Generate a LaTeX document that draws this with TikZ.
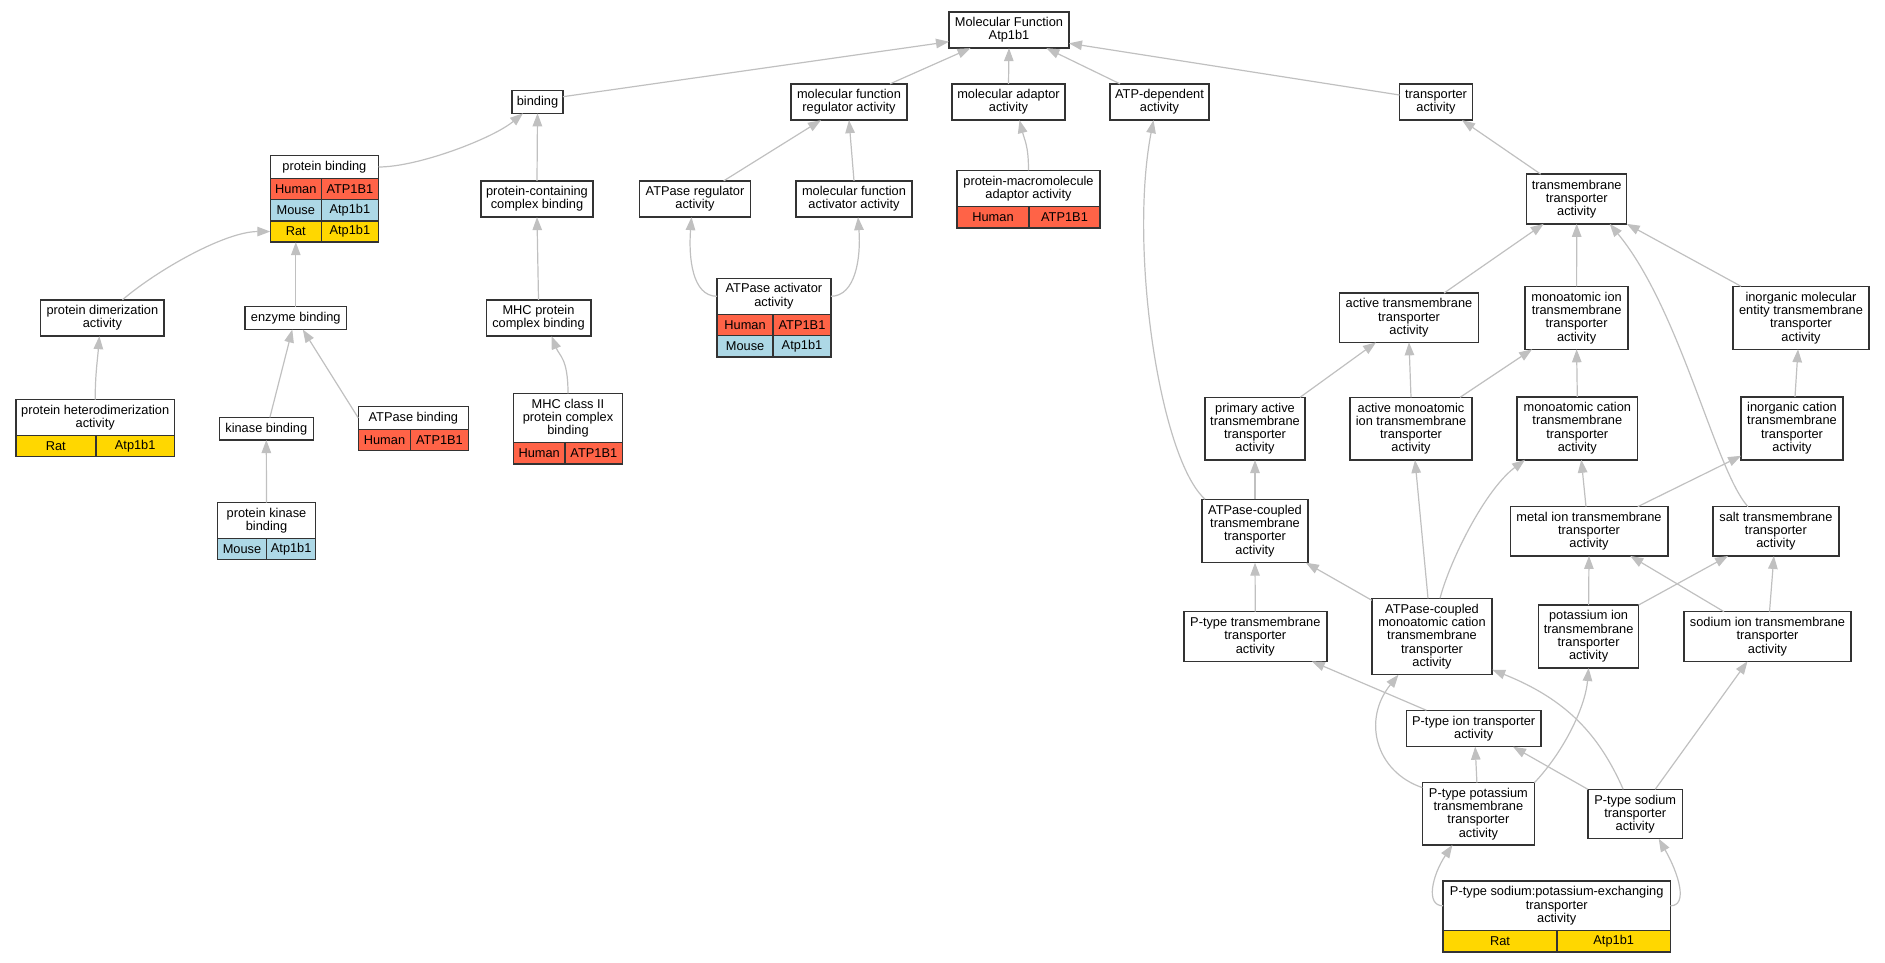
\documentclass[tikz,border=0pt]{standalone}
\usepackage{fontspec}
\setmainfont{Liberation Sans}
\usepackage{xcolor}
\usepackage{tikz}
\usetikzlibrary{arrows.meta}

\definecolor{human}{HTML}{FF6347}
\definecolor{mouse}{HTML}{ADD8E6}
\definecolor{rat}{HTML}{FFD700}
\definecolor{edgegray}{HTML}{C0C0C0}

\tikzset{
  term/.style={draw=black!80, line width=1.5pt, fill=white, align=center,
    inner xsep=2pt, inner ysep=0pt, outer sep=0pt,
    font=\fontsize{12.8}{13.3}\selectfont},
  cell/.style={term, minimum height=21.3, anchor=north west},
  isa/.style={draw=edgegray, line width=1.2pt, -{Triangle[length=13pt,width=9.5pt]}}
}

\begin{document}
\begin{tikzpicture}[x=1pt,y=-1pt]
\useasboundingbox (0,0) rectangle (1885,963);

% Root term
\node[term, minimum width=120, minimum height=36.3] (mf) at (1009,30) {Molecular Function\\Atp1b1};

% First level
\node[term, minimum width=51, minimum height=22.6] (binding) at (537.5,102) {binding};
\node[term, minimum width=116, minimum height=36.3] (mfreg) at (849,102) {molecular function\\regulator activity};
\node[term, minimum width=113, minimum height=36.3] (madapt) at (1008.5,102) {molecular adaptor\\activity};
\node[term, minimum width=99, minimum height=36.3] (atpdep) at (1159.5,102) {ATP-dependent\\activity};
\node[term, minimum width=73, minimum height=36.3] (transp) at (1436,102) {transporter\\activity};

% Binding branch
\node[term, minimum width=108.2, minimum height=22.6] (pbind) at (324.4,167) {protein binding};
\node[cell, fill=human, minimum width=51] (pbind-h1) at (pbind.south west) {Human};
\node[cell, fill=human, minimum width=57.2] (pbind-h2) at (pbind-h1.north east) {ATP1B1};
\node[cell, fill=mouse, minimum width=51] (pbind-m1) at (pbind-h1.south west) {Mouse};
\node[cell, fill=mouse, minimum width=57.2] (pbind-m2) at (pbind-m1.north east) {Atp1b1};
\node[cell, fill=rat, minimum width=51] (pbind-r1) at (pbind-m1.south west) {Rat};
\node[cell, fill=rat, minimum width=57.2] (pbind-r2) at (pbind-r1.north east) {Atp1b1};

\node[term, minimum width=112, minimum height=36.3] (pcc) at (537,199) {protein-containing\\complex binding};
\node[term, minimum width=123.6, minimum height=36.3] (pdimer) at (102.4,318) {protein dimerization\\activity};
\node[term, minimum width=101.6, minimum height=23] (enzb) at (295.8,318) {enzyme binding};
\node[term, minimum width=104.5, minimum height=36.3] (mhcb) at (538.5,318) {MHC protein\\complex binding};

\node[term, minimum width=158.7, minimum height=35.6] (phetero) at (95.2,417.5) {protein heterodimerization\\activity};
\node[cell, fill=rat, minimum width=80] (phetero-r1) at (phetero.south west) {Rat};
\node[cell, fill=rat, minimum width=78.7] (phetero-r2) at (phetero-r1.north east) {Atp1b1};

\node[term, minimum width=94, minimum height=22.7] (kinb) at (266.3,428.7) {kinase binding};

\node[term, minimum width=110, minimum height=22.6] (atpb) at (413.3,418) {ATPase binding};
\node[cell, fill=human, minimum width=52.4] (atpb-h1) at (atpb.south west) {Human};
\node[cell, fill=human, minimum width=57.6] (atpb-h2) at (atpb-h1.north east) {ATP1B1};

\node[term, minimum width=109.4, minimum height=49.4] (mhc2) at (568,418) {MHC class II\\protein complex\\binding};
\node[cell, fill=human, minimum width=51.7] (mhc2-h1) at (mhc2.south west) {Human};
\node[cell, fill=human, minimum width=57.7] (mhc2-h2) at (mhc2-h1.north east) {ATP1B1};

\node[term, minimum width=98.4, minimum height=35.6] (pkinb) at (266.5,520.5) {protein kinase\\binding};
\node[cell, fill=mouse, minimum width=49.4] (pkinb-m1) at (pkinb.south west) {Mouse};
\node[cell, fill=mouse, minimum width=49] (pkinb-m2) at (pkinb-m1.north east) {Atp1b1};

% Regulator and adaptor branch
\node[term, minimum width=111, minimum height=36.3] (atpreg) at (695,199) {ATPase regulator\\activity};
\node[term, minimum width=116, minimum height=36.3] (mfact) at (854,199) {molecular function\\activator activity};

\node[term, minimum width=113.8, minimum height=36] (atpact) at (773.9,296.3) {ATPase activator\\activity};
\node[cell, fill=human, minimum width=56.2] (atpact-h1) at (atpact.south west) {Human};
\node[cell, fill=human, minimum width=57.6] (atpact-h2) at (atpact-h1.north east) {ATP1B1};
\node[cell, fill=mouse, minimum width=56.2] (atpact-m1) at (atpact-h1.south west) {Mouse};
\node[cell, fill=mouse, minimum width=57.6] (atpact-m2) at (atpact-m1.north east) {Atp1b1};

\node[term, minimum width=143, minimum height=36.3] (pmadapt) at (1028.5,188.5) {protein-macromolecule\\adaptor activity};
\node[cell, fill=human, minimum width=72] (pmadapt-h1) at (pmadapt.south west) {Human};
\node[cell, fill=human, minimum width=71] (pmadapt-h2) at (pmadapt-h1.north east) {ATP1B1};

% Transporter branch
\node[term, minimum width=100, minimum height=49.7] (tmt) at (1576.7,199) {transmembrane\\transporter\\activity};
\node[term, minimum width=139, minimum height=49.3] (acttm) at (1409,317.7) {active transmembrane\\transporter\\activity};
\node[term, minimum width=103, minimum height=63] (mitm) at (1576.6,317.8) {monoatomic ion\\transmembrane\\transporter\\activity};
\node[term, minimum width=136, minimum height=63] (imetm) at (1801,317.8) {inorganic molecular\\entity transmembrane\\transporter\\activity};

\node[term, minimum width=100, minimum height=62.7] (primact) at (1255,428.7) {primary active\\transmembrane\\transporter\\activity};
\node[term, minimum width=121.7, minimum height=62.7] (actmi) at (1411,428.7) {active monoatomic\\ion transmembrane\\transporter\\activity};
\node[term, minimum width=120.6, minimum height=63] (mctm) at (1577.3,428.3) {monoatomic cation\\transmembrane\\transporter\\activity};
\node[term, minimum width=101.8, minimum height=63] (ictm) at (1792,428.3) {inorganic cation\\transmembrane\\transporter\\activity};

\node[term, minimum width=105.7, minimum height=63.4] (atpctm) at (1255,531) {ATPase-coupled\\transmembrane\\transporter\\activity};
\node[term, minimum width=157.5, minimum height=49.3] (metal) at (1589,531.3) {metal ion transmembrane\\transporter\\activity};
\node[term, minimum width=125.7, minimum height=49.3] (salt) at (1775.9,531.3) {salt transmembrane\\transporter\\activity};

\node[term, minimum width=143, minimum height=49.6] (ptypetm) at (1255.3,636.5) {P-type transmembrane\\transporter\\activity};
\node[term, minimum width=120.4, minimum height=76.4] (atpcmc) at (1432,636.5) {ATPase-coupled\\monoatomic cation\\transmembrane\\transporter\\activity};
\node[term, minimum width=100, minimum height=63] (kion) at (1588.6,636.5) {potassium ion\\transmembrane\\transporter\\activity};
\node[term, minimum width=167, minimum height=49.6] (naion) at (1767.5,636.5) {sodium ion transmembrane\\transporter\\activity};

\node[term, minimum width=134.6, minimum height=36.4] (ption) at (1473.7,728.5) {P-type ion transporter\\activity};
\node[term, minimum width=112, minimum height=62.3] (ptypek) at (1478.4,813.8) {P-type potassium\\transmembrane\\transporter\\activity};
\node[term, minimum width=94.7, minimum height=49.4] (ptypena) at (1635.2,814) {P-type sodium\\transporter\\activity};

\node[term, minimum width=227.4, minimum height=49.7] (ptypenak) at (1556.7,905.8) {P-type sodium:potassium-exchanging\\transporter\\activity};
\node[cell, fill=rat, minimum width=114] (ptypenak-r1) at (ptypenak.south west) {Rat};
\node[cell, fill=rat, minimum width=113.4] (ptypenak-r2) at (ptypenak-r1.north east) {Atp1b1};

% Straight is_a links
\foreach \from/\to in {madapt/mf, pcc/binding, mhcb/pcc, pkinb/kinb, mfact/mfreg, mitm/tmt,
    actmi/acttm, mctm/mitm, atpctm/primact, ptypetm/atpctm, kion/metal, enzb/pbind-r1}
  \draw[isa] (\from.north) -- (\to.south);

% Other is_a links
\draw[isa] ([yshift=5.3]binding.east) -- ([yshift=-11.7]mf.west);
\draw[isa] ([xshift=41]mfreg.north) -- ([xshift=-38.5]mf.south);
\draw[isa] ([xshift=-39.5]atpdep.north) -- ([xshift=37.4]mf.south);
\draw[isa] ([yshift=7]transp.west) -- ([yshift=-13.3]mf.east);

\draw[isa] (pbind.east) .. controls +(40,0) and +(-30,25) .. ([xshift=-14.5]binding.south);
\draw[isa] ([xshift=20]pdimer.north) .. controls +(35,-30) and +(-45,0) .. (pbind-r1.west);
\draw[isa] (phetero.north) .. controls +(0,-25) and +(-2,25) .. ([xshift=-3]pdimer.south);
\draw[isa] ([xshift=3.6]kinb.north) -- ([xshift=-3.5]enzb.south);
\draw[isa] (atpb.west) -- ([xshift=7]enzb.south);
\draw[isa] (mhc2.north) .. controls +(0,-35) and +(8,20) .. ([xshift=13]mhcb.south);

\draw[isa] ([xshift=28.7]atpreg.north) -- ([xshift=-28]mfreg.south);
\draw[isa] (atpact.west) .. controls +(-25,0) and +(-3,40) .. ([xshift=-3.5]atpreg.south);
\draw[isa] (atpact.east) .. controls +(25,0) and +(3,40) .. ([xshift=4]mfact.south);
\draw[isa] (pmadapt.north) .. controls +(0,-25) and +(5,20) .. ([xshift=11]madapt.south);

\draw[isa] ([xshift=3]atpctm.north west) .. controls +(-45,-40) and +(-25,130) .. ([xshift=-6]atpdep.south);
\draw[isa] ([xshift=-36]tmt.north) -- ([xshift=26]transp.south);
\draw[isa] ([xshift=35]acttm.north) -- ([xshift=-33]tmt.south);
\draw[isa] ([xshift=8]imetm.north west) -- (tmt.south east);
\draw[isa] ([xshift=-28]salt.north) .. controls +(-33,-37) and +(71,86) .. ([xshift=33]tmt.south);
\draw[isa] ([xshift=-5]primact.north east) -- ([xshift=-33]acttm.south);
\draw[isa] ([xshift=49]actmi.north) -- ([xshift=7]mitm.south west);
\draw[isa] ([xshift=3]ictm.north) -- ([xshift=-3]imetm.south);
\draw[isa] ([xshift=-4]atpcmc.north) -- ([xshift=4]actmi.south);
\draw[isa] ([xshift=8]atpcmc.north) .. controls +(10,-38) and +(-40,30) .. ([xshift=8]mctm.south west);
\draw[isa] ([xshift=-3]metal.north) -- ([xshift=4]mctm.south);
\draw[isa] ([xshift=-30]metal.north east) -- ([yshift=4]ictm.south west);
\draw[isa] ([yshift=-2]atpcmc.north west) -- ([xshift=-2]atpctm.south east);
\draw[isa] (kion.north east) -- ([xshift=15]salt.south west);
\draw[isa] ([xshift=40]naion.north west) -- ([xshift=-37.5]metal.south east);
\draw[isa] ([xshift=2]naion.north) -- ([xshift=-2]salt.south);
\draw[isa] ([xshift=20]ption.north west) -- ([xshift=-15]ptypetm.south east);
\draw[isa] ([xshift=-1.5]ptypek.north) -- ([xshift=1.5]ption.south);
\draw[isa] ([yshift=-5]ptypek.north west) .. controls +(-47,-16) and +(-36.5,45) .. ([xshift=-33.5]atpcmc.south);
\draw[isa] (ptypek.north east) .. controls +(26.5,-27.7) and +(-3.6,42) .. (kion.south);
\draw[isa] (ptypena.north west) -- ([xshift=-28]ption.south east);
\draw[isa] ([xshift=-12]ptypena.north) .. controls +(-23.5,-53.3) and +(75.4,30) .. ([yshift=5]atpcmc.south east);
\draw[isa] ([xshift=20]ptypena.north) -- ([xshift=-20]naion.south);
\draw[isa] (ptypenak.west) .. controls +(-18,0) and +(-20,30) .. ([xshift=-26]ptypek.south);
\draw[isa] (ptypenak.east) .. controls +(18,0) and +(20,35) .. ([xshift=23.5]ptypena.south);
\end{tikzpicture}
\end{document}
